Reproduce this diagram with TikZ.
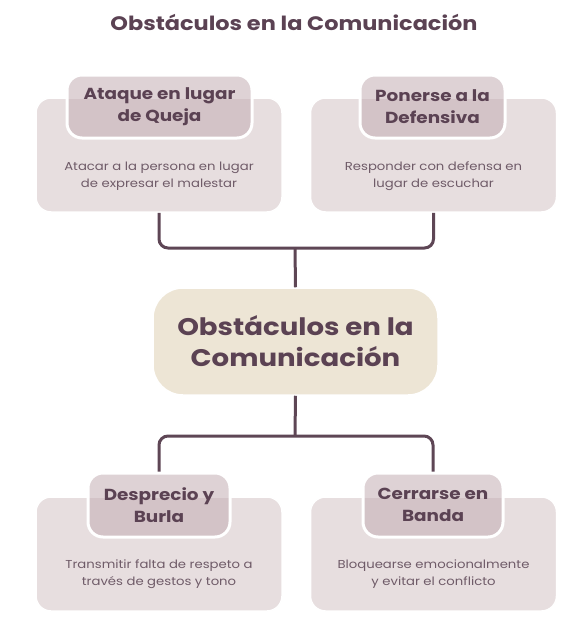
\documentclass[tikz,border=0pt]{standalone}
\usepackage{fontspec}
\setmainfont{Poppins}[FakeStretch=1.15]
\definecolor{plum}{HTML}{5B4253}
\definecolor{desccol}{HTML}{6F5B68}
\definecolor{cardfill}{HTML}{E7DEDF}
\definecolor{headfill}{HTML}{C4AEB4}
\definecolor{centerfill}{HTML}{EDE5D5}
\definecolor{linecol}{HTML}{5E4655}
\tikzset{
  card/.style={rectangle, rounded corners=15pt, fill=cardfill, draw=white, line width=1.5pt,
    minimum width=246pt, minimum height=114pt, inner sep=0pt},
  headbox/.style={rectangle, rounded corners=15pt, draw=white, line width=3pt,
    fill=headfill, fill opacity=0.55, text opacity=1, text=plum,
    font=\fontsize{16}{21.5}\selectfont\bfseries, align=center, inner sep=0pt},
  desc/.style={text=desccol, font=\fontsize{11.5}{17}\selectfont, align=center, inner sep=0pt},
  centerbox/.style={rectangle, rounded corners=30pt, fill=centerfill, draw=white, line width=1.5pt,
    minimum width=285pt, minimum height=107pt, text=plum,
    font=\fontsize{24}{31}\selectfont\bfseries, align=center, inner sep=0pt},
  conn/.style={draw=linecol, line width=3pt, rounded corners=9pt},
  titletext/.style={text=plum, font=\fontsize{19.5}{24}\selectfont\bfseries, inner sep=0pt}
}
\begin{document}
\begin{tikzpicture}[x=1pt,y=-1pt]
\useasboundingbox (0,0) rectangle (572,634);
\fill[white] (0,0) rectangle (572,634);
\node[titletext] (title) at (294,22) {Obstáculos en la Comunicación};
% cards
\node[card] (c1) at (159,155) {};
\node[card] (c2) at (433.5,155) {};
\node[card] (c3) at (159,554) {};
\node[card] (c4) at (433.5,554) {};
\node[centerbox] (ctr) at (295.5,341.5) {Obstáculos en la\\Comunicación};
% headers
\node[headbox, minimum width=185pt, minimum height=63pt] (h1) at (159.5,106.5) {Ataque en lugar\\de Queja};
\node[headbox, minimum width=145pt, minimum height=63pt] (h2) at (432.5,106.5) {Ponerse a la\\Defensiva};
\node[headbox, minimum width=142pt, minimum height=64pt] (h3) at (159,505) {Desprecio y\\Burla};
\node[headbox, minimum width=140pt, minimum height=64pt] (h4) at (433,505) {Cerrarse en\\Banda};
% descriptions
\node[desc] (d1) at (159,176.5) {Atacar a la persona en lugar\\de expresar el malestar};
\node[desc] (d2) at (433.5,176.5) {Responder con defensa en\\lugar de escuchar};
\node[desc] (d3) at (159,574) {Transmitir falta de respeto a\\través de gestos y tono};
\node[desc] (d4) at (433.5,574) {Bloquearse emocionalmente\\y evitar el conflicto};
% connectors
\coordinate (j1) at (295,248);
\coordinate (j2) at (295,436);
\draw[conn] (c1.south) |- (j1) -| (c2.south);
\draw[conn] (j1) -- (ctr.north);
\draw[conn] (ctr.south) -- (j2);
\draw[conn] (h3.north) |- (j2) -| (h4.north);
\end{tikzpicture}
\end{document}
